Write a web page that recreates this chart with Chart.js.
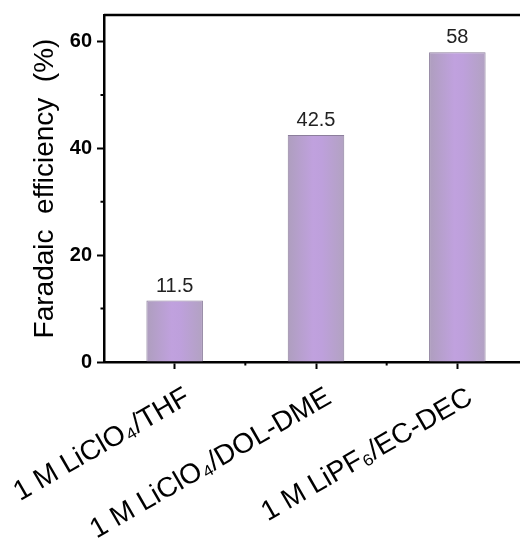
<!DOCTYPE html>
<html>
<head>
<meta charset="utf-8">
<script src="https://cdn.jsdelivr.net/npm/chart.js@4.4.1/dist/chart.umd.min.js"></script>
<style>
  html, body { margin: 0; padding: 0; background: #fff; overflow: hidden; }
  #wrap { width: 532px; height: 542px; }
</style>
</head>
<body>
<div id="wrap"><canvas id="fe-chart" width="532" height="542"></canvas></div>
<script>
// data
const electrolytes = ['1 M LiClO\u2084/THF', '1 M LiClO\u2084/DOL-DME', '1 M LiPF\u2086/EC-DEC'];
const faradaicEff = [11.5, 42.5, 58];
const valueLabels = ['11.5', '42.5', '58'];
const yMajorTicks = [0, 20, 40, 60];
const yMinorTicks = [10, 30, 50];
const xMinorTicks = [0.5, 1.5];

const FONT = "'Liberation Sans', Arial, sans-serif";

// bars get a soft horizontal shading, like the original
function barShade(context) {
  const chart = context.chart;
  const x = chart.scales.x;
  if (!x || !x.width) return '#bda3dc';
  const cx = x.getPixelForValue(context.dataIndex);
  const half = (x.width / electrolytes.length) * 0.4 / 2;
  const g = chart.ctx.createLinearGradient(cx - half, 0, cx + half, 0);
  g.addColorStop(0, 'rgb(174,158,190)');
  g.addColorStop(0.45, 'rgb(192,161,222)');
  g.addColorStop(0.6, 'rgb(190,160,220)');
  g.addColorStop(1, 'rgb(178,162,194)');
  return g;
}

const extras = {
  id: 'extras',
  afterDraw(chart) {
    const ctx = chart.ctx;
    const area = chart.chartArea;
    const x = chart.scales.x;
    const y = chart.scales.y;
    ctx.save();
    // top + right frame
    ctx.strokeStyle = '#000';
    ctx.lineWidth = 2.5;
    ctx.beginPath();
    ctx.moveTo(area.left, area.top);
    ctx.lineTo(area.right, area.top);
    ctx.lineTo(area.right, area.bottom);
    ctx.stroke();
    // minor ticks
    ctx.lineWidth = 2;
    ctx.beginPath();
    yMinorTicks.forEach(v => {
      const py = y.getPixelForValue(v);
      ctx.moveTo(area.left - 3.5, py);
      ctx.lineTo(area.left, py);
    });
    xMinorTicks.forEach(v => {
      const px = x.getPixelForValue(v);
      ctx.moveTo(px, area.bottom);
      ctx.lineTo(px, area.bottom + 3.5);
    });
    ctx.stroke();
    // value labels above bars
    ctx.fillStyle = '#222';
    ctx.font = '20px ' + FONT;
    ctx.textAlign = 'center';
    ctx.textBaseline = 'alphabetic';
    chart.getDatasetMeta(0).data.forEach((bar, i) => {
      ctx.fillText(valueLabels[i], bar.x, bar.y - 9);
    });
    ctx.restore();
  }
};

new Chart(document.getElementById('fe-chart'), {
  type: 'bar',
  data: {
    labels: electrolytes,
    datasets: [{
      data: faradaicEff,
      backgroundColor: barShade,
      borderColor: '#8c7e9c',
      borderWidth: 1,
      barPercentage: 0.4,
      categoryPercentage: 1.0
    }]
  },
  options: {
    responsive: false,
    animation: false,
    layout: { padding: { top: 15, right: 4, left: 0, bottom: 0 } },
    plugins: { legend: { display: false }, tooltip: { enabled: false } },
    scales: {
      x: {
        offset: true,
        grid: { offset: false, drawOnChartArea: false, tickLength: 7, tickWidth: 2, tickColor: '#000' },
        border: { color: '#000', width: 2.5 },
        ticks: {
          autoSkip: false,
          minRotation: 30,
          maxRotation: 30,
          labelOffset: 13,
          padding: 12,
          color: '#000',
          font: { family: FONT, size: 28 }
        },
        afterFit(scale) {
          scale.height = 180;
          scale.paddingLeft = 0;
          scale.paddingRight = 0;
        }
      },
      y: {
        min: 0,
        max: 65,
        grid: { drawOnChartArea: false, tickLength: 7, tickWidth: 2, tickColor: '#000' },
        border: { color: '#000', width: 2.5 },
        ticks: {
          stepSize: 20,
          includeBounds: false,
          padding: 5,
          color: '#000',
          font: { family: FONT, size: 20, weight: 'bold' },
          callback: v => (yMajorTicks.includes(v) ? v : '')
        },
        title: {
          display: true,
          text: 'Faradaic  efficiency  (%)',
          color: '#000',
          font: { family: FONT, size: 28 },
          padding: { top: 28, bottom: 0 }
        },
        afterFit(scale) {
          scale.width = 104;
          scale.paddingTop = 0;
          scale.paddingBottom = 0;
        }
      }
    }
  },
  plugins: [extras]
});
</script>
</body>
</html>
